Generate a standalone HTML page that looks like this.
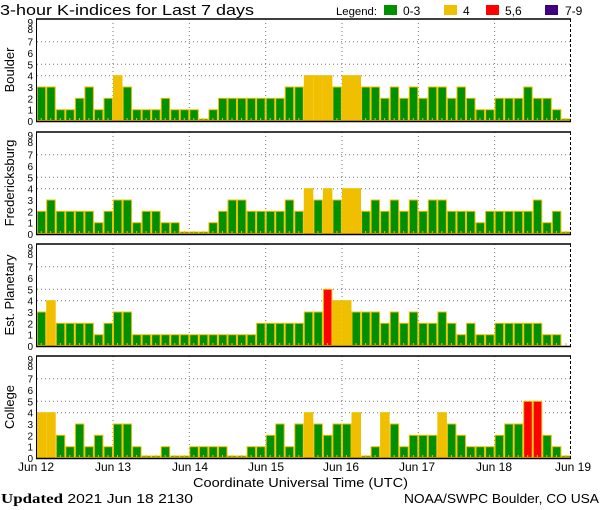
<!DOCTYPE html>
<html><head><meta charset="utf-8">
<style>
html,body{margin:0;padding:0;background:#fff;}
svg{display:block;}
text{font-family:"Liberation Sans",sans-serif;fill:#000;}
</style></head>
<body>
<svg id="s" width="600" height="510" viewBox="0 0 600 510" xmlns="http://www.w3.org/2000/svg">
<text x="0" y="15" font-size="15" textLength="254" lengthAdjust="spacingAndGlyphs">3-hour K-indices for Last 7 days</text>
<text x="336" y="15" font-size="11" textLength="41" lengthAdjust="spacingAndGlyphs">Legend:</text>
<rect x="384" y="5" width="13" height="10" fill="#009000"/>
<text x="403" y="15" font-size="12">0-3</text>
<rect x="444" y="5" width="13" height="10" fill="#f0c000"/>
<text x="463" y="15" font-size="12">4</text>
<rect x="486" y="5" width="13" height="10" fill="#ff0000"/>
<text x="505" y="15" font-size="12">5,6</text>
<rect x="545" y="5" width="13" height="10" fill="#400080"/>
<text x="565" y="15" font-size="12">7-9</text>
<g id="g"></g>
<g font-size="12" text-anchor="middle">
<text x="36" y="471">Jun 12</text><text x="113" y="471">Jun 13</text><text x="190" y="471">Jun 14</text><text x="266" y="471">Jun 15</text><text x="341" y="471">Jun 16</text><text x="417" y="471">Jun 17</text><text x="494" y="471">Jun 18</text><text x="573" y="471">Jun 19</text>
</g>
<text x="193" y="487" font-size="13" textLength="215" lengthAdjust="spacingAndGlyphs">Coordinate Universal Time (UTC)</text>
<text x="1" y="503" font-size="13" textLength="192" lengthAdjust="spacingAndGlyphs"><tspan font-family="Liberation Serif,serif" font-weight="bold" font-size="14">Updated</tspan> 2021 Jun 18 2130</text>
<text x="404" y="503" font-size="13" textLength="195" lengthAdjust="spacingAndGlyphs">NOAA/SWPC Boulder, CO USA</text>
</svg>
<script>
var D=[
["Boulder",19,[3,3,1,1,2,3,1,2,4,3,1,1,1,2,1,1,1,0,1,2,2,2,2,2,2,2,3,3,4,4,4,3,4,4,3,3,2,3,2,3,2,3,3,2,3,2,1,1,2,2,2,3,2,2,1,0]],
["Fredericksburg",132,[2,3,2,2,2,2,1,2,3,3,1,2,2,1,1,0,0,0,1,2,3,3,2,2,2,2,3,2,4,3,4,3,4,4,2,3,2,3,2,3,2,3,3,2,2,2,1,2,2,2,2,2,3,1,2,0]],
["Est. Planetary",244,[3,4,2,2,2,2,1,2,3,3,1,1,1,1,1,1,1,1,1,1,1,1,1,2,2,2,2,2,3,3,5,4,4,3,3,3,2,3,2,3,2,2,3,2,1,2,1,1,2,2,2,2,2,1,1,-1]],
["College",356,[4,4,2,1,3,1,2,1,3,3,1,0,0,1,0,0,1,1,1,1,0,0,1,1,2,3,1,3,4,3,2,3,3,4,0,1,4,3,1,2,2,2,4,3,2,1,1,1,2,3,3,5,5,2,1,0]]];
var X0=36.7,BW=9.54,H=102,U=H/9,s="";
D.forEach(function(p){
 var t=p[1],b=t+H;
 [4,5,7].forEach(function(v){var y=(b-v*U).toFixed(1);s+='<line x1="37" x2="570" y1="'+y+'" y2="'+y+'" stroke="#777" stroke-dasharray="1,3"/>';});
 for(var d=1;d<7;d++){var x=(X0+d*8*BW).toFixed(1);s+='<line x1="'+x+'" x2="'+x+'" y1="'+t+'" y2="'+b+'" stroke="#777" stroke-dasharray="1,3"/>';}
 p[2].forEach(function(v,i){
  var x=X0+i*BW;
  if(v>=0){var h=v==0?2:v*U;var c=v<=3?"#009000":v==4?"#f0c000":v<=6?"#ff0000":"#400080";
   s+='<rect x="'+(x+0.5).toFixed(1)+'" y="'+(b-h).toFixed(1)+'" width="'+(BW-1).toFixed(1)+'" height="'+(h-0.5).toFixed(1)+'" fill="'+c+'" stroke="#f0c000" stroke-width="1"/>';}
  s+='<rect x="'+(x+4).toFixed(1)+'" y="'+(b-3)+'" width="1" height="3" fill="#f0c000"/>';
 });
 s+='<line x1="36" x2="571" y1="'+t+'" y2="'+t+'" stroke="#000" stroke-width="1.5"/>';
 s+='<line x1="36" x2="571" y1="'+(b+0.5)+'" y2="'+(b+0.5)+'" stroke="#000" stroke-width="1.5"/>';
 s+='<line x1="36.5" x2="36.5" y1="'+t+'" y2="'+b+'" stroke="#000"/>';
 s+='<line x1="570.5" x2="570.5" y1="'+t+'" y2="'+b+'" stroke="#000" stroke-dasharray="3,2"/>';
 for(var v=0;v<=9;v++){var y=b-v*U+4;if(v==9)y=t+7;if(v==8)y=t+14;s+='<text x="33" y="'+y.toFixed(1)+'" font-size="10" text-anchor="end">'+v+'</text>';}
 var cy=t+H/2;
 s+='<text transform="translate(14,'+cy+') rotate(-90)" font-size="13" text-anchor="middle">'+p[0]+'</text>';
});
document.getElementById("g").innerHTML=s;
</script>
</body></html>
